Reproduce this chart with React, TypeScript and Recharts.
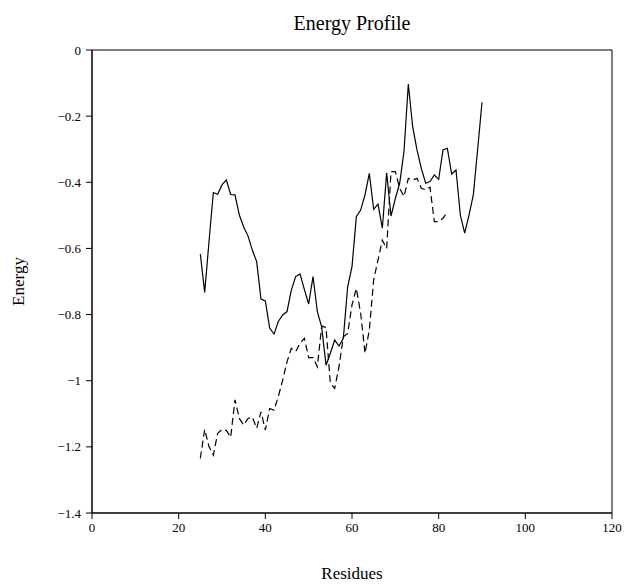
import { LineChart, Line, XAxis, YAxis, ReferenceArea } from "recharts";

const residues = [
  25, 26, 27, 28, 29, 30, 31, 32, 33, 34, 35, 36, 37, 38, 39, 40, 41, 42, 43, 44, 45, 46,
  47, 48, 49, 50, 51, 52, 53, 54, 55, 56, 57, 58, 59, 60, 61, 62, 63, 64, 65, 66, 67, 68,
  69, 70, 71, 72, 73, 74, 75, 76, 77, 78, 79, 80, 81, 82, 83, 84, 85, 86, 87, 88, 89, 90,
];

// solid curve
const energyA = [
  -0.617, -0.733, -0.58, -0.431, -0.436, -0.408, -0.393, -0.437, -0.438, -0.499, -0.535,
  -0.562, -0.605, -0.64, -0.753, -0.759, -0.841, -0.859, -0.821, -0.801, -0.791, -0.726,
  -0.685, -0.677, -0.724, -0.768, -0.685, -0.791, -0.837, -0.953, -0.917, -0.877, -0.895,
  -0.872, -0.716, -0.655, -0.504, -0.484, -0.438, -0.373, -0.482, -0.466, -0.539, -0.371,
  -0.502, -0.449, -0.403, -0.307, -0.103, -0.232, -0.302, -0.358, -0.403, -0.398, -0.378,
  -0.391, -0.302, -0.297, -0.375, -0.363, -0.499, -0.554, -0.499, -0.438, -0.3, -0.158,
];

// dashed curve (stops at residue 82)
const energyB = [
  -1.235, -1.147, -1.199, -1.225, -1.159, -1.147, -1.15, -1.171, -1.058, -1.114, -1.134,
  -1.114, -1.11, -1.144, -1.094, -1.149, -1.084, -1.089, -1.048, -0.998, -0.943, -0.902,
  -0.912, -0.887, -0.872, -0.93, -0.93, -0.958, -0.835, -0.839, -1.008, -1.023, -0.958,
  -0.867, -0.857, -0.771, -0.721, -0.796, -0.917, -0.847, -0.695, -0.635, -0.575, -0.6,
  -0.368, -0.368, -0.418, -0.443, -0.388, -0.393, -0.388, -0.418, -0.423, -0.415, -0.519,
  -0.519, -0.509, -0.489,
];

const xTicks = [0, 20, 40, 60, 80, 100, 120];
const yTicks = [0, -0.2, -0.4, -0.6, -0.8, -1, -1.2, -1.4];

const data = residues.map((r, i) => ({
  residue: r,
  a: energyA[i],
  b: i < energyB.length ? energyB[i] : null,
}));

const font = "'Liberation Serif', 'DejaVu Serif', serif";
const tickStyle = { fontSize: 13, fill: "#000", fontFamily: font };
const minus = (v: number) => String(v).replace("-", "\u2212");

export default function App() {
  return (
    <div style={{ position: "absolute", left: 0, top: 0, width: 624, height: 584, background: "#fff" }}>
      <LineChart width={624} height={584} data={data} margin={{ top: 50, right: 12, bottom: 41, left: 5 }}>
        <XAxis
          dataKey="residue"
          type="number"
          domain={[0, 120]}
          ticks={xTicks}
          tickSize={6}
          tickMargin={4}
          height={30}
          stroke="#000"
          tick={tickStyle}
          label={{
            content: ({ viewBox }: any) => (
              <text
                x={viewBox.x + viewBox.width / 2}
                y={viewBox.y + 66}
                textAnchor="middle"
                fontFamily={font}
                fontSize={17}
                fill="#000"
              >
                Residues
              </text>
            ),
          }}
        />
        <YAxis
          type="number"
          domain={[-1.4, 0]}
          ticks={yTicks}
          tickFormatter={minus}
          tickSize={6}
          tickMargin={5}
          width={87}
          stroke="#000"
          tick={tickStyle}
          label={{
            content: ({ viewBox }: any) => {
              const cx = 18;
              const cy = viewBox.y + viewBox.height / 2;
              return (
                <text
                  x={cx}
                  y={cy}
                  transform={`rotate(-90 ${cx} ${cy})`}
                  textAnchor="middle"
                  dominantBaseline="central"
                  fontFamily={font}
                  fontSize={17}
                  fill="#000"
                >
                  Energy
                </text>
              );
            },
          }}
        />
        {/* plot frame + title */}
        <ReferenceArea
          x1={0}
          x2={120}
          y1={-1.4}
          y2={0}
          fill="none"
          fillOpacity={0}
          stroke="#000"
          strokeWidth={1}
          ifOverflow="visible"
          label={{
            content: ({ viewBox }: any) => (
              <text
                x={viewBox.x + viewBox.width / 2}
                y={viewBox.y - 20}
                textAnchor="middle"
                fontFamily={font}
                fontSize={20}
                fill="#000"
              >
                Energy Profile
              </text>
            ),
          }}
        />
        <Line
          dataKey="a"
          stroke="#000"
          strokeWidth={1.2}
          dot={false}
          isAnimationActive={false}
        />
        <Line
          dataKey="b"
          stroke="#000"
          strokeWidth={1.2}
          strokeDasharray="7 4"
          dot={false}
          isAnimationActive={false}
        />
      </LineChart>
    </div>
  );
}
